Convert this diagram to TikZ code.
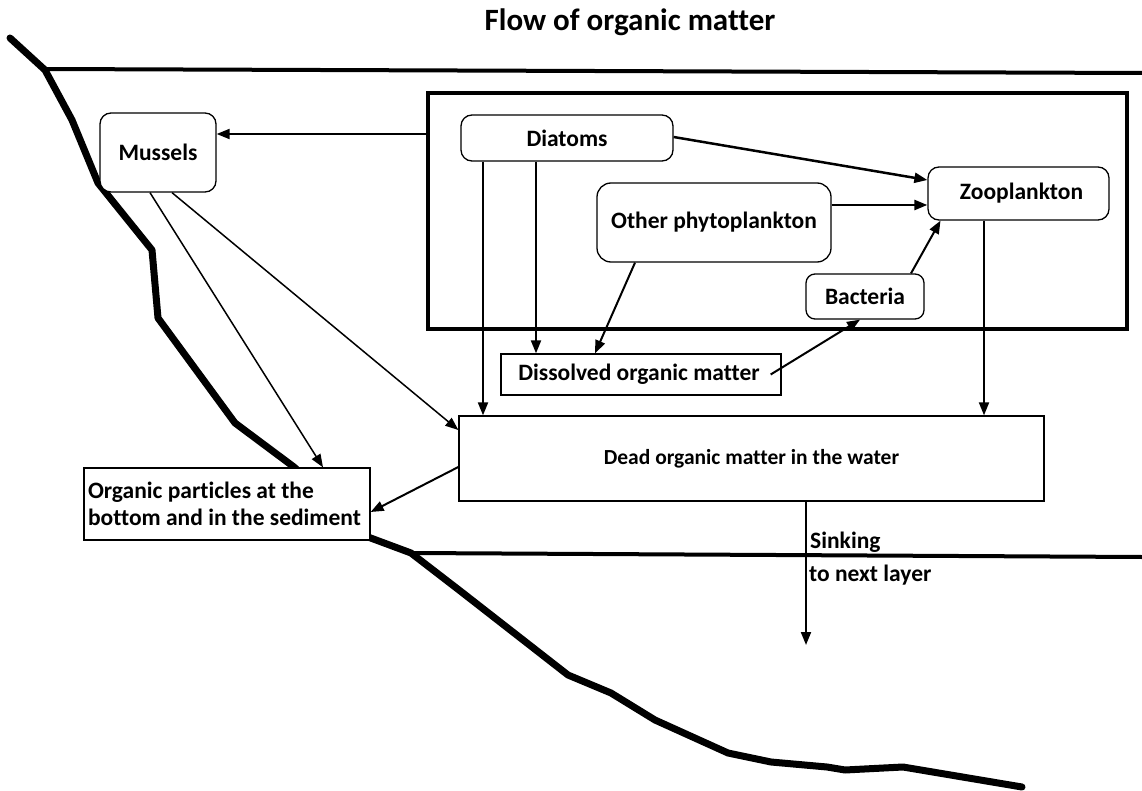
\documentclass[tikz,border=0pt]{standalone}
\usepackage{fontspec}
\setmainfont{Carlito}[Ligatures=NoCommon]
\usetikzlibrary{arrows.meta}
\begin{document}
\begin{tikzpicture}[x=1pt,y=-1pt,
  every node/.style={font=\fontsize{23.5}{27}\selectfont\bfseries},
  rbox/.style={draw, rounded corners=11pt, line width=1.3pt, inner sep=0pt, fill=white},
  sbox/.style={draw, line width=1.3pt, inner sep=0pt, fill=white},
  arr/.style={-{Triangle[length=13pt,width=10pt]}, line width=2pt},
  tarr/.style={-{Triangle[length=13pt,width=10pt]}, line width=1.5pt},
  layer/.style={line width=4pt, line cap=round},
  shore/.style={line width=7pt, line cap=round, line join=round}
]
\useasboundingbox (0,0) rectangle (1142,791);
\fill[white] (0,0) rectangle (1142,791);

% title
\node (title) at (630,22) {\fontsize{31}{36}\selectfont Flow of organic matter};

% water layers
\draw[layer] (45,69) -- (1142,73);
\draw[layer] (411,553) -- (1142,557);

% shore
\draw[shore] (10,38) -- (45,70) -- (72,120) -- (98,183) -- (152,250) -- (158,318)
  -- (235,423) -- (294,467) -- (368,537) -- (411,553) -- (459,590) -- (568,675)
  -- (611,693) -- (655,720) -- (728,753) -- (771,762) -- (827,767) -- (845,770)
  -- (903,767) -- (1022,787);

% plankton frame
\node[draw, line width=4pt, minimum width=699pt, minimum height=236pt, inner sep=0pt] (plank) at (777.5,211) {};

% nodes
\node[rbox, minimum width=116pt, minimum height=79pt] (mus) at (158,152.5) {Mussels};
\node[rbox, minimum width=212pt, minimum height=46pt] (dia) at (567,138) {Diatoms};
\node[rbox, minimum width=181pt, minimum height=53pt] (zoo) at (1018.5,193.5) {\hspace*{6pt}Zooplankton};
\node[rbox, rounded corners=14pt, minimum width=234pt, minimum height=79pt] (oth) at (714,222.5) {Other phytoplankton};
\node[rbox, rounded corners=9pt, minimum width=118pt, minimum height=45pt] (bac) at (865,296.5) {Bacteria};
\node[sbox, minimum width=280pt, minimum height=41pt] (dis) at (641,374.5) {Dissolved organic matter\hspace*{4pt}};
\node[sbox, minimum width=585pt, minimum height=85pt, font=\fontsize{21.5}{26}\selectfont\bfseries] (dead) at (751.5,458.5) {Dead organic matter in the water};
\node[sbox, minimum height=72pt, inner xsep=4pt, text width=278pt, align=flush left] (org) at (227,504)
  {Organic particles at the\\bottom and in the sediment};

% connectors
\coordinate (m1) at (428,134);
\draw[arr] (m1) -- (mus.east |- m1);
\draw[arr, line width=2.5pt] ([yshift=1pt]dia.east) -- ([yshift=13.5pt]zoo.west);
\draw[arr, line width=2.5pt] ([yshift=17.5pt]oth.east) -- ([yshift=-11.5pt]zoo.west);
\draw[arr] ([xshift=46pt]bac.north) -- ([xshift=-78pt]zoo.south);
\draw[arr] ([xshift=-84pt]dia.south) -- ([xshift=-84pt]dia.south |- dead.north);
\draw[arr] ([xshift=-31pt]dia.south) -- ([xshift=-31pt]dia.south |- dis.north);
\draw[arr] ([xshift=-79pt]oth.south) -- ([xshift=-46pt]dis.north);
\draw[arr] ([xshift=-11pt]dis.east) -- ([xshift=-5pt]bac.south);
\draw[arr] ([xshift=-34.5pt]zoo.south) -- ([xshift=-34.5pt]zoo.south |- dead.north);
\draw[tarr] ([xshift=-8pt]mus.south) -- ([xshift=96pt]org.north);
\draw[tarr] ([xshift=14pt]mus.south) -- ([yshift=28.5pt]dead.west);
\draw[arr] ([yshift=-8.5pt]dead.west) -- ([yshift=-8pt]org.east);
\coordinate (sink) at (806,645);
\draw[arr] ([xshift=54.5pt]dead.south) -- (sink);

% sinking labels
\node[anchor=west, inner sep=0pt] (sk1) at (810,542) {Sinking};
\node[anchor=west, inner sep=0pt] (sk2) at (809,575) {to next layer};
\end{tikzpicture}
\end{document}
